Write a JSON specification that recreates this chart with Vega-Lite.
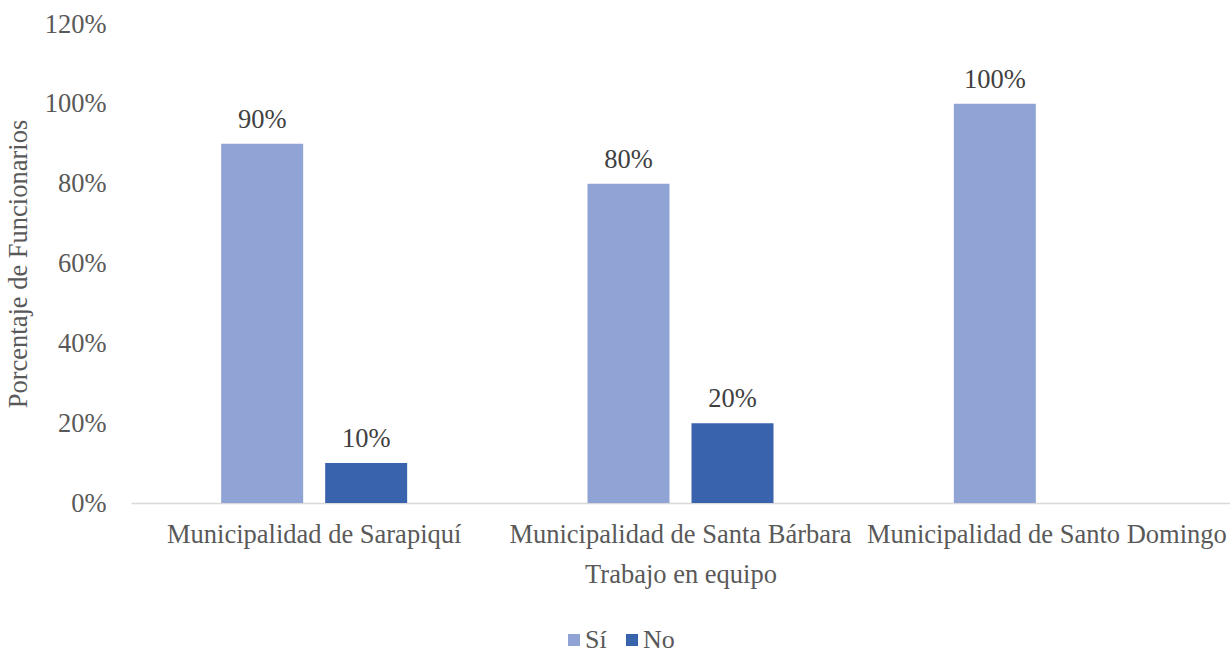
{
  "$schema": "https://vega.github.io/schema/vega-lite/v6.json",
  "width": 1099,
  "height": 479,
  "autosize": {"type": "none"},
  "padding": {"left": 131, "top": 24, "right": 0, "bottom": 153},
  "background": "white",
  "config": {
    "view": {"stroke": null},
    "font": "Liberation Serif",
    "text": {"font": "Liberation Serif"}
  },
  "data": {
    "values": [
      {"municipalidad": "Municipalidad de Sarapiquí", "respuesta": "Sí", "valor": 0.9},
      {"municipalidad": "Municipalidad de Sarapiquí", "respuesta": "No", "valor": 0.1},
      {"municipalidad": "Municipalidad de Santa Bárbara", "respuesta": "Sí", "valor": 0.8},
      {"municipalidad": "Municipalidad de Santa Bárbara", "respuesta": "No", "valor": 0.2},
      {"municipalidad": "Municipalidad de Santo Domingo", "respuesta": "Sí", "valor": 1.0}
    ]
  },
  "encoding": {
    "x": {
      "field": "municipalidad",
      "type": "nominal",
      "sort": null,
      "scale": {"paddingInner": 0, "paddingOuter": 0},
      "axis": {
        "title": "Trabajo en equipo",
        "titleFont": "Liberation Serif",
        "titleFontSize": 26.5,
        "titleFontWeight": "normal",
        "titleColor": "#595959",
        "titlePadding": 14,
        "labelFont": "Liberation Serif",
        "labelFontSize": 26.5,
        "labelColor": "#595959",
        "labelAngle": 0,
        "labelPadding": 18,
        "labelLimit": 0,
        "labelOverlap": false,
        "ticks": false,
        "domainColor": "#D9D9D9",
        "domainWidth": 1.5
      }
    },
    "xOffset": {
      "field": "respuesta",
      "type": "nominal",
      "sort": ["Sí", "No"],
      "scale": {"domain": ["Sí", "No"], "paddingInner": 0.2115, "paddingOuter": 0.867}
    },
    "y": {
      "field": "valor",
      "type": "quantitative",
      "scale": {"domain": [0, 1.2]},
      "axis": {
        "title": "Porcentaje de Funcionarios",
        "titleFont": "Liberation Serif",
        "titleFontSize": 26.5,
        "titleFontWeight": "normal",
        "titleColor": "#595959",
        "titlePadding": 12,
        "labelFont": "Liberation Serif",
        "labelFontSize": 26.5,
        "labelColor": "#595959",
        "labelPadding": 25,
        "format": ".0%",
        "values": [0, 0.2, 0.4, 0.6, 0.8, 1.0, 1.2],
        "grid": false,
        "ticks": false,
        "domain": false
      }
    }
  },
  "layer": [
    {
      "mark": {"type": "bar"},
      "encoding": {
        "color": {
          "field": "respuesta",
          "type": "nominal",
          "scale": {"domain": ["Sí", "No"], "range": ["#8FA3D4", "#3A63AD"]},
          "legend": {
            "title": null,
            "orient": "none",
            "direction": "horizontal",
            "legendX": 430,
            "legendY": 603,
            "symbolType": "square",
            "symbolSize": 144,
            "symbolStrokeWidth": 0,
            "labelFont": "Liberation Serif",
            "labelFontSize": 26,
            "labelColor": "#595959",
            "labelOffset": -2,
            "columnPadding": 12
          }
        }
      }
    },
    {
      "mark": {"type": "text", "baseline": "bottom", "dy": -10, "fontSize": 26.5, "color": "#404040", "font": "Liberation Serif"},
      "encoding": {
        "text": {"field": "valor", "type": "quantitative", "format": ".0%"}
      }
    }
  ]
}
